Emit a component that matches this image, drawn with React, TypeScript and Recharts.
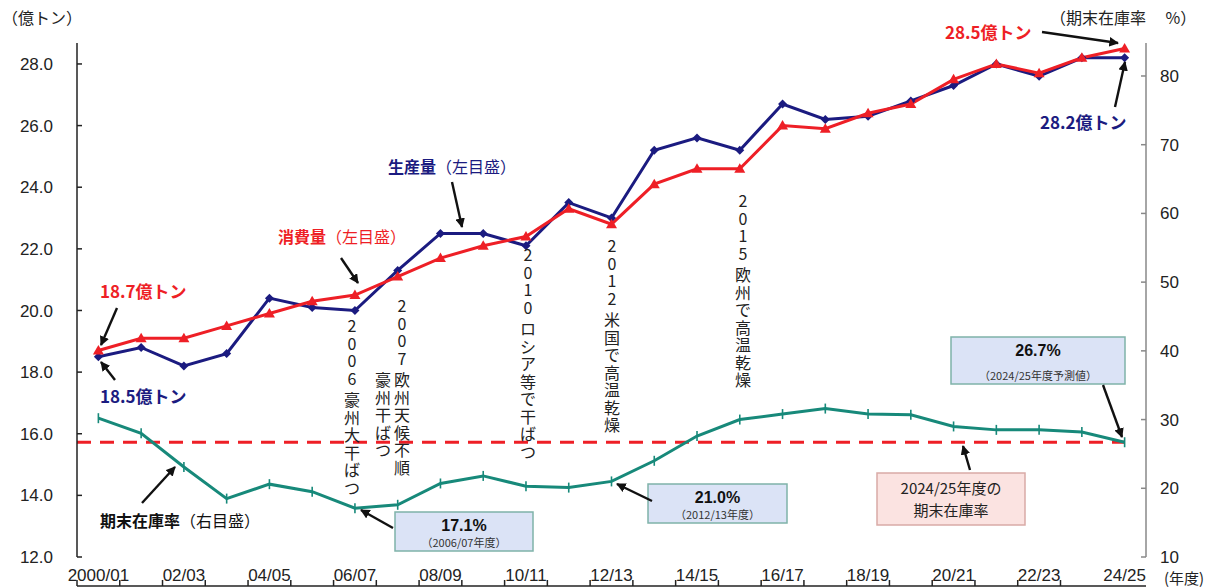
import React from 'react';
import { LineChart, Line, XAxis, YAxis, ReferenceLine } from 'recharts';

// ---------------------------------------------------------------------------
// Data
// ---------------------------------------------------------------------------

const YEARS = [
  '2000/01', '01/02', '02/03', '03/04', '04/05', '05/06', '06/07', '07/08',
  '08/09', '09/10', '10/11', '11/12', '12/13', '13/14', '14/15', '15/16',
  '16/17', '17/18', '18/19', '19/20', '20/21', '21/22', '22/23', '23/24', '24/25',
];

// 生産量 (億トン)
const PRODUCTION = [
  18.5, 18.8, 18.2, 18.6, 20.4, 20.1, 20.0, 21.3, 22.5, 22.5, 22.1, 23.5, 23.0,
  25.2, 25.6, 25.2, 26.7, 26.2, 26.3, 26.8, 27.3, 28.0, 27.6, 28.2, 28.2,
];

// 消費量 (億トン)
const CONSUMPTION = [
  18.7, 19.1, 19.1, 19.5, 19.9, 20.3, 20.5, 21.1, 21.7, 22.1, 22.4, 23.3, 22.8,
  24.1, 24.6, 24.6, 26.0, 25.9, 26.4, 26.7, 27.5, 28.0, 27.7, 28.2, 28.5,
];

// 期末在庫率 (%)
const STOCK_RATIO = [
  30.2, 28.0, 23.1, 18.5, 20.6, 19.5, 17.1, 17.6, 20.7, 21.8, 20.3, 20.1, 21.0,
  24.0, 27.6, 30.0, 30.8, 31.6, 30.8, 30.7, 29.0, 28.5, 28.5, 28.2, 26.7,
];

const CURRENT_RATIO = 26.7;

const LEFT_TICKS = [12, 14, 16, 18, 20, 22, 24, 26, 28];
const RIGHT_TICKS = [10, 20, 30, 40, 50, 60, 70, 80];
const LABEL_TICKS = [0, 2, 4, 6, 8, 10, 12, 14, 16, 18, 20, 22, 24];
const BOUNDARY_TICKS = YEARS.slice(0, -1).map((_, i) => i - 0.5);

const data = YEARS.map((year, i) => ({
  idx: i,
  year,
  production: PRODUCTION[i],
  consumption: CONSUMPTION[i],
  ratio: STOCK_RATIO[i],
}));

// ---------------------------------------------------------------------------
// Style
// ---------------------------------------------------------------------------

const NAVY = '#1b1b80';
const RED = '#ee1f26';
const TEAL = '#17897a';
const JP = '"Noto Sans CJK JP", "Noto Sans", sans-serif';
const NUM = '"Liberation Sans", Arial, sans-serif';

const W = 1220;
const H = 587;

// ---------------------------------------------------------------------------
// Markers
// ---------------------------------------------------------------------------

const Diamond = (p: any) => {
  if (p.cx == null || p.cy == null) return <g key={p.index} />;
  const { cx, cy } = p;
  return (
    <path
      key={p.index}
      d={`M${cx},${cy - 4.5}L${cx + 4.5},${cy}L${cx},${cy + 4.5}L${cx - 4.5},${cy}Z`}
      fill={NAVY}
    />
  );
};

const Triangle = (p: any) => {
  if (p.cx == null || p.cy == null) return <g key={p.index} />;
  const { cx, cy } = p;
  return (
    <path
      key={p.index}
      d={`M${cx},${cy - 5.5}L${cx + 5.5},${cy + 4}L${cx - 5.5},${cy + 4}Z`}
      fill={RED}
    />
  );
};

const Dash = (p: any) => {
  if (p.cx == null || p.cy == null) return <g key={p.index} />;
  const { cx, cy } = p;
  return <line key={p.index} x1={cx} x2={cx} y1={cy - 5} y2={cy + 5} stroke={TEAL} strokeWidth={1.6} />;
};

// ---------------------------------------------------------------------------
// Annotations
// ---------------------------------------------------------------------------

const ARROWS: [number, number, number, number][] = [
  [117, 308, 101, 345],
  [115, 380, 101, 362],
  [341, 258, 358, 283],
  [452, 182, 462, 227],
  [1042, 32, 1118, 43],
  [1115, 107, 1125, 62],
  [142, 503, 175, 467],
  [393, 528, 361, 510],
  [652, 501, 617, 484],
  [1103, 385, 1122, 437],
  [970, 470, 963, 446],
];

// y = centre of the first glyph
const EVENTS: { x: number; y: number; text: string }[] = [
  { x: 352, y: 325, text: '2006 豪州大干ばつ' },
  { x: 402, y: 305, text: '2007 欧州天候不順' },
  { x: 383, y: 379, text: '豪州干ばつ' },
  { x: 528, y: 254, text: '2010 ロシア等で干ばつ' },
  { x: 612, y: 245, text: '2012 米国で高温乾燥' },
  { x: 743, y: 200, text: '2015 欧州で高温乾燥' },
];

const VText: React.FC<{ x: number; y: number; text: string }> = ({ x, y, text }) => {
  let cy = y;
  const out: React.ReactNode[] = [];
  Array.from(text).forEach((ch, i) => {
    if (ch === ' ') {
      cy += 4;
      return;
    }
    out.push(
      <text key={i} x={x} y={cy} textAnchor="middle" dominantBaseline="central" fontSize={16} fill="#222">
        {ch}
      </text>
    );
    cy += 17.5;
  });
  return <g>{out}</g>;
};

const Box: React.FC<{ x: number; y: number; w: number; h: number; big: string; small: string }> = ({ x, y, w, h, big, small }) => (
  <g>
    <rect x={x} y={y} width={w} height={h} fill="#dbe3f6" stroke="#7fb3a9" strokeWidth={1.5} />
    <text x={x + w / 2} y={y + 19} textAnchor="middle" fontSize={16} fontWeight={700} fill="#111" fontFamily={NUM}>
      {big}
    </text>
    <text x={x + w / 2} y={y + h - 4} textAnchor="middle" fontSize={11} fill="#333">
      {small}
    </text>
  </g>
);

const Overlay = () => (
  <svg
    width={W}
    height={H}
    style={{ position: 'absolute', left: 0, top: 0, pointerEvents: 'none', fontFamily: JP }}
  >
    <defs>
      <marker id="ah" viewBox="0 0 10 10" refX="9" refY="5" markerWidth="4" markerHeight="4" orient="auto">
        <path d="M0,0L10,5L0,10Z" fill="#111" />
      </marker>
    </defs>

    {/* axis titles */}
    <text x={2} y={24} fontSize={16} fill="#222">（億トン）</text>
    <text x={1050} y={24} fontSize={16} fill="#222">（期末在庫率　 %）</text>
    <text x={1164} y={584} fontSize={15} fill="#222">(年度)</text>

    {/* value labels */}
    <text x={100} y={298} fontSize={17} fontWeight={700} fill={RED}>18.7億トン</text>
    <text x={100} y={403} fontSize={17} fontWeight={700} fill={NAVY}>18.5億トン</text>
    <text x={945} y={39} fontSize={17} fontWeight={700} fill={RED}>28.5億トン</text>
    <text x={1040} y={129} fontSize={17} fontWeight={700} fill={NAVY}>28.2億トン</text>

    {/* series labels */}
    <text x={278} y={243} fontSize={16} fill={RED}>
      <tspan fontWeight={700}>消費量</tspan>（左目盛）
    </text>
    <text x={388} y={173} fontSize={16} fill={NAVY}>
      <tspan fontWeight={700}>生産量</tspan>（左目盛）
    </text>
    <text x={100} y={527} fontSize={16} fill="#111">
      <tspan fontWeight={700}>期末在庫率</tspan>（右目盛）
    </text>

    {/* events */}
    {EVENTS.map((e, i) => (
      <VText key={i} {...e} />
    ))}

    {/* boxes */}
    <Box x={395} y={512} w={138} h={39} big="17.1%" small="（2006/07年度）" />
    <Box x={648} y={484} w={139} h={39} big="21.0%" small="（2012/13年度）" />
    <Box x={951} y={337} w={174} h={47} big="26.7%" small="（2024/25年度予測値）" />
    <g>
      <rect x={877} y={473} width={148} height={52} fill="#fbe3e1" stroke="#d9aaa6" strokeWidth={1.5} />
      <text x={951} y={494} textAnchor="middle" fontSize={15} fill="#222">2024/25年度の</text>
      <text x={951} y={516} textAnchor="middle" fontSize={15} fill="#222">期末在庫率</text>
    </g>

    {/* arrows */}
    {ARROWS.map(([x1, y1, x2, y2], i) => (
      <line key={i} x1={x1} y1={y1} x2={x2} y2={y2} stroke="#111" strokeWidth={2.4} markerEnd="url(#ah)" />
    ))}
  </svg>
);

// ---------------------------------------------------------------------------
// Main component
// ---------------------------------------------------------------------------

const App: React.FC = () => (
  <div style={{ position: 'absolute', left: 0, top: 0, width: W, height: H, background: '#fff' }}>
    <LineChart width={W} height={H} data={data} margin={{ top: 43, right: 0, bottom: 0, left: 0 }}>
      <XAxis
        xAxisId="t"
        type="number"
        dataKey="idx"
        domain={[-0.5, 24.5]}
        ticks={BOUNDARY_TICKS}
        interval={0}
        tickFormatter={() => ''}
        tickSize={-6}
        height={1}
        stroke="#222"
        strokeWidth={1.5}
        allowDataOverflow
      />
      <XAxis
        xAxisId="lab"
        type="number"
        dataKey="idx"
        domain={[-0.5, 24.5]}
        ticks={LABEL_TICKS}
        interval={0}
        tickFormatter={(i: number) => YEARS[i]}
        axisLine={false}
        tickLine={false}
        tickSize={0}
        tickMargin={12}
        height={29}
        tick={{ fontSize: 17, fill: '#222', fontFamily: NUM }}
        allowDataOverflow
      />
      <YAxis
        yAxisId="l"
        domain={[12, 28.68]}
        ticks={LEFT_TICKS}
        interval={0}
        tickFormatter={(v: number) => v.toFixed(1)}
        width={77}
        tickSize={-5}
        tickMargin={29}
        stroke="#222"
        strokeWidth={1.5}
        tick={{ fontSize: 17, fill: '#222', fontFamily: NUM }}
        allowDataOverflow
      />
      <YAxis
        yAxisId="r"
        orientation="right"
        domain={[10, 84.8]}
        ticks={RIGHT_TICKS}
        interval={0}
        width={74}
        tickSize={-5}
        tickMargin={19}
        stroke="#888"
        strokeWidth={1.5}
        tick={{ fontSize: 17, fill: '#222', fontFamily: NUM }}
        allowDataOverflow
      />
      <ReferenceLine
        xAxisId="t"
        yAxisId="r"
        segment={[{ x: -0.5, y: CURRENT_RATIO }, { x: 24, y: CURRENT_RATIO }]}
        stroke={RED}
        strokeWidth={3}
        strokeDasharray="14 9"
      />
      <Line
        xAxisId="t"
        yAxisId="r"
        dataKey="ratio"
        stroke={TEAL}
        strokeWidth={3}
        dot={Dash}
        isAnimationActive={false}
      />
      <Line
        xAxisId="t"
        yAxisId="l"
        dataKey="production"
        stroke={NAVY}
        strokeWidth={3}
        dot={Diamond}
        isAnimationActive={false}
      />
      <Line
        xAxisId="t"
        yAxisId="l"
        dataKey="consumption"
        stroke={RED}
        strokeWidth={3}
        dot={Triangle}
        isAnimationActive={false}
      />
    </LineChart>
    <Overlay />
  </div>
);

export default App;
